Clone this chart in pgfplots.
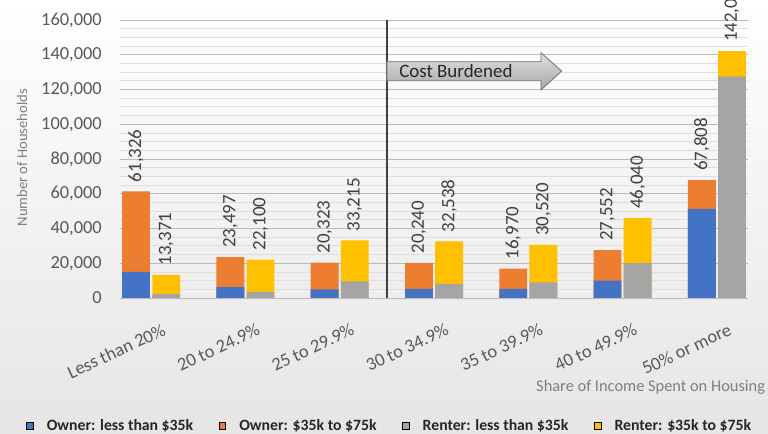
\documentclass[border=0pt]{standalone}
\usepackage{fontspec}
\setmainfont{Carlito}
\usepackage{graphicx}
\usepackage{pgfplots}
\pgfplotsset{compat=1.18}
\definecolor{cBlue}{HTML}{4472C4}
\definecolor{cOrange}{HTML}{ED7D31}
\definecolor{cGray}{HTML}{A5A5A5}
\definecolor{cYellow}{HTML}{FFC000}
\definecolor{txt}{HTML}{595959}
\definecolor{lbl}{HTML}{404040}
\definecolor{ttl}{HTML}{7F7F7F}
\begin{document}
\begin{tikzpicture}
\shade[top color=white, bottom color=black!10] (0,0) rectangle (576pt,325.5pt);
\begin{axis}[
  at={(90pt,102pt)}, anchor=south west,
  scale only axis, width=471pt, height=208.5pt,
  xmin=-0.33, xmax=6.33, ymin=0, ymax=160000,
  axis line style={draw=none}, tick style={draw=none},
  ytick={0,20000,...,160000}, minor y tick num=3,
  ymajorgrids, yminorgrids,
  major grid style={color=black!27, line width=0.7pt},
  minor grid style={color=black!13, line width=0.6pt},
  xtick={0,...,6},
  xticklabels={Less than 20\%, 20 to 24.9\%, 25 to 29.9\%, 30 to 34.9\%, 35 to 39.9\%, 40 to 49.9\%, 50\% or more},
  scaled y ticks=false,
  /pgf/number format/fixed,
  /pgf/number format/1000 sep={,},
  /pgf/number format/assume math mode=true,
  yticklabel style={font=\fontsize{13.8}{16}\selectfont, text=txt, inner sep=0pt, anchor=east, xshift=-13.5pt},
  xticklabel style={font=\fontsize{13.8}{16}\selectfont, text=txt, inner sep=0pt, anchor=east, xshift=10pt, yshift=-23pt, rotate=25},
  ylabel={Number of Households},
  ylabel style={at={(axis description cs:-0.156,0.505)}, anchor=center, font=\fontsize{11}{13}\selectfont, text=ttl},
  xlabel={Share of Income Spent on Housing},
  xlabel style={at={(axis description cs:0.845,-0.320)}, anchor=center, font=\fontsize{12.3}{14}\selectfont, text=ttl},
  legend image code/.code={\fill[#1] (0pt,-2.6pt) rectangle (5.2pt,2.6pt);},
  legend columns=4,
  legend style={at={(axis description cs:-0.1497,-0.460)}, anchor=west, draw=none, fill=none, inner sep=0pt, outer sep=0pt,
    font=\bfseries\fontsize{11.8}{14}\selectfont, text=black!85,
    /tikz/every odd column/.append style={column sep=8pt},
    /tikz/every even column/.append style={column sep=17pt}},
  legend cell align=left,
  every node near coord/.append style={anchor=south, inner ysep=6.75pt, inner xsep=0pt, font=\fontsize{14.2}{16}\selectfont, text=lbl},
]
% Owner: total (orange on top), blue overlaid at bottom
\addplot[ybar, bar width=20.9pt, bar shift=-11.3pt, fill=cOrange, draw=none, forget plot,
  nodes near coords={\rotatebox{90}{\pgfmathprintnumber\pgfplotspointmeta}},
  every node near coord/.append style={xshift=-11.3pt}]
  coordinates {(0,61326) (1,23497) (2,20323) (3,20240) (4,16970) (5,27552) (6,67808)};
\addplot[ybar, bar width=20.9pt, bar shift=-11.3pt, fill=cBlue, draw=none, forget plot]
  coordinates {(0,15000) (1,6200) (2,5000) (3,5200) (4,5200) (5,10000) (6,51300)};
% Renter: total (yellow on top), gray overlaid at bottom
\addplot[ybar, bar width=20.9pt, bar shift=11.3pt, fill=cYellow, draw=none, forget plot,
  nodes near coords={\rotatebox{90}{\pgfmathprintnumber\pgfplotspointmeta}},
  every node near coord/.append style={xshift=11.3pt}]
  coordinates {(0,13371) (1,22100) (2,33215) (3,32538) (4,30520) (5,46040) (6,142040)};
\addplot[ybar, bar width=20.9pt, bar shift=11.3pt, fill=cGray, draw=none, forget plot]
  coordinates {(0,2200) (1,3500) (2,9500) (3,8100) (4,9000) (5,20000) (6,127500)};
% divider and annotation
\draw[color=black!75, line width=1pt] (axis cs:2.5,0) -- (axis cs:2.5,160000);
\shade[top color=black!12, bottom color=black!35]
  (axis cs:2.5,136000) -- (axis cs:4.134,136000) -- (axis cs:4.134,141180) -- (axis cs:4.354,130600)
  -- (axis cs:4.134,119712) -- (axis cs:4.134,125065) -- (axis cs:2.5,125065) -- cycle;
\draw[black!55, line width=0.6pt]
  (axis cs:2.5,136000) -- (axis cs:4.134,136000) -- (axis cs:4.134,141180) -- (axis cs:4.354,130600)
  -- (axis cs:4.134,119712) -- (axis cs:4.134,125065) -- (axis cs:2.5,125065) -- cycle;
\node[anchor=west, inner sep=0pt, font=\fontsize{14.2}{16}\selectfont, text=black!85] at (axis cs:2.629,130500) {Cost Burdened};
\addlegendimage{fill=cBlue}\addlegendentry{Owner: less than \$35k}
\addlegendimage{fill=cOrange}\addlegendentry{Owner: \$35k to \$75k}
\addlegendimage{fill=cGray}\addlegendentry{Renter: less than \$35k}
\addlegendimage{fill=cYellow}\addlegendentry{Renter: \$35k to \$75k}
\end{axis}
\pgfresetboundingbox
\useasboundingbox (0,0) rectangle (576pt,325.5pt);
\end{tikzpicture}
\end{document}
